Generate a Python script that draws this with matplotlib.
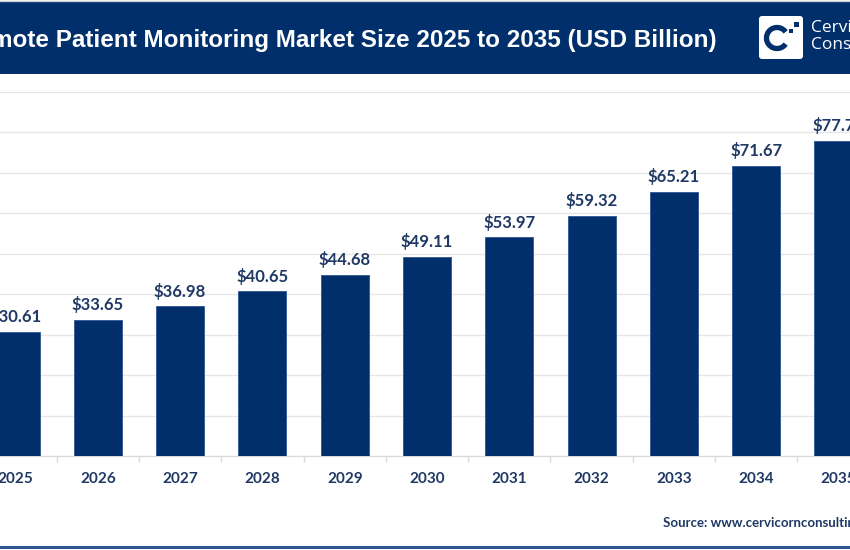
import matplotlib
matplotlib.use('Agg')
import matplotlib.pyplot as plt
from matplotlib.patches import Rectangle, FancyBboxPatch, Arc

years = ['2025', '2026', '2027', '2028', '2029', '2030', '2031', '2032', '2033', '2034', '2035']
values = [30.61, 33.65, 36.98, 40.65, 44.68, 49.11, 53.97, 59.32, 65.21, 71.67, 77.77]
title = 'Remote Patient Monitoring Market Size 2025 to 2035 (USD Billion)'
source = 'Source: www.cervicornconsulting.com'

W, H = 850, 550
NAVY = '#002F6C'
LABEL = '#1F3864'

fig = plt.figure(figsize=(8.5, 5.5), dpi=100)

step = 82.3
c0 = 15.5
left_px = c0 - 0.5 * step
base_px = 456
top_px = 91.5
ax = fig.add_axes([left_px / W, (H - base_px) / H, 11 * step / W, (base_px - top_px) / H])

x = list(range(len(years)))
ax.bar(x, values, width=0.585, color=NAVY, edgecolor='#2F5597', linewidth=0.6, zorder=3)
ax.set_xlim(-0.5, len(years) - 0.5)
ax.set_ylim(0, 90)
ax.set_yticks(range(0, 91, 10))
ax.yaxis.grid(True, color='#E6E6E6', linewidth=1)
ax.set_axisbelow(True)
for s in ['top', 'left', 'right']:
    ax.spines[s].set_visible(False)
ax.spines['bottom'].set_color('#D9D9D9')
ax.tick_params(axis='y', left=False, labelleft=False)
ax.set_xticks(x)
ax.set_xticklabels(years, fontsize=11, fontweight='bold', color=LABEL, family='Lato')
ax.tick_params(axis='x', which='major', length=0, pad=11.5)
ax.set_xticks([i - 0.5 for i in range(len(years) + 1)], minor=True)
ax.tick_params(axis='x', which='minor', length=4.5, color='#D9D9D9', width=1)

for i, v in enumerate(values):
    ax.annotate(f'${v:.2f}', (i, v), xytext=(0, 7), textcoords='offset points',
                ha='center', va='baseline', fontsize=12, fontweight='bold',
                color=LABEL, family='Lato')

ov = fig.add_axes([0, 0, 1, 1], zorder=5)
ov.set_xlim(0, W)
ov.set_ylim(H, 0)
ov.axis('off')
ov.patch.set_alpha(0)

ov.plot([0, W], [0.5, 0.5], color='#C8C8C8', lw=1)
ov.add_patch(Rectangle((0, 1), W, 73, color=NAVY, lw=0))
ov.text(717, 40, title, ha='right', va='center', fontsize=17.5, fontweight='bold',
        color='white', family='Liberation Sans')

ov.add_patch(FancyBboxPatch((759, 16), 44, 43, boxstyle='round,pad=0,rounding_size=3',
                            fc='white', ec='none'))
ov.add_patch(Arc((777, 38), 21, 21, theta1=35, theta2=325, color=NAVY, lw=3.8))
ov.add_patch(Rectangle((794, 22), 5, 5, color=NAVY, lw=0))
ov.add_patch(Rectangle((789, 29), 4, 4, color=NAVY, lw=0))
ov.text(811, 28.5, 'Cervicorn', ha='left', va='center', fontsize=12.5, color='white', family='Open Sans')
ov.text(811, 45, 'Consulting', ha='left', va='center', fontsize=12.5, color='white', family='Open Sans')

ov.text(663, 523, source, ha='left', va='center', fontsize=9.5, fontweight='bold',
        color=LABEL, family='Lato')
ov.plot([0, W], [546.5, 546.5], color='#2F5496', lw=2.2)

fig.savefig('out.png', dpi=100)
